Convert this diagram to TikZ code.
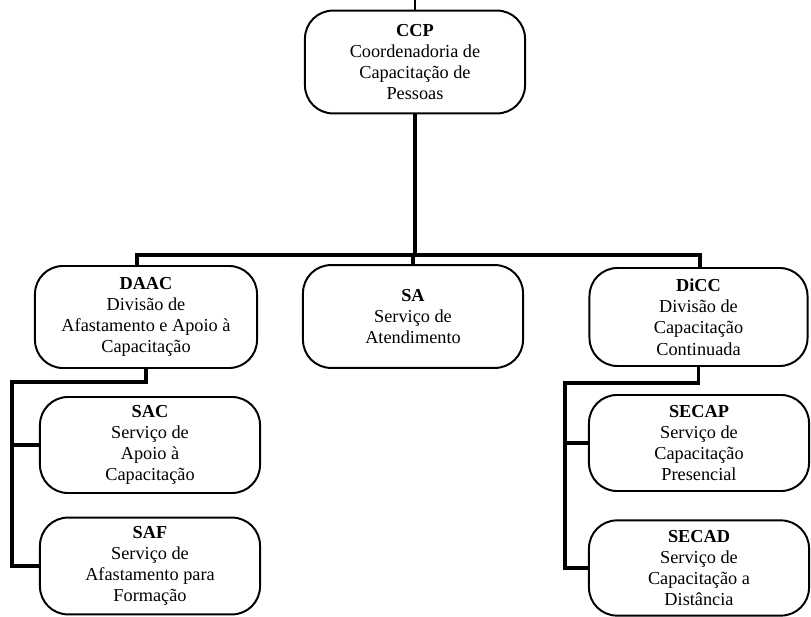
\documentclass[tikz,border=0pt]{standalone}
\usepackage{fontspec}
\setmainfont{Liberation Serif}

\tikzset{
    unit/.style={draw, line width=1.4pt, rounded corners=0.7cm, align=center, inner sep=0pt,
        font=\fontsize{13}{15.1}\selectfont},
    link/.style={line width=2.4pt}
}

\begin{document}
\begin{tikzpicture}[x=0.025cm, y=-0.025cm]
        \useasboundingbox (0,0) rectangle (811,617);
        \node[unit, minimum width=5.5cm, minimum height=2.57cm] (ccp) at (415,62)  {\textbf{CCP}\\Coordenadoria de\\Capacitação de\\Pessoas};
        \node[unit, minimum width=5.55cm, minimum height=2.55cm] (daac) at (146,317)  {\textbf{DAAC}\\Divisão de\\Afastamento e Apoio à\\Capacitação};
        \node[unit, minimum width=5.5cm, minimum height=2.57cm] (sa) at (413,316.5)  {\textbf{SA}\\Serviço de\\Atendimento};
        \node[unit, minimum width=5.45cm, minimum height=2.45cm] (dicc) at (698.5,317)  {\textbf{DiCC}\\Divisão de\\Capacitação\\Continuada};
        \node[unit, minimum width=5.5cm, minimum height=2.4cm] (sac) at (150,445)  {\textbf{SAC}\\Serviço de\\Apoio à\\Capacitação};
        \node[unit, minimum width=5.5cm, minimum height=2.42cm] (saf) at (150,566)  {\textbf{SAF}\\Serviço de\\Afastamento para\\Formação};
        \node[unit, minimum width=5.5cm, minimum height=2.4cm] (secap) at (699,443)  {\textbf{SECAP}\\Serviço de\\Capacitação\\Presencial};
        \node[unit, minimum width=5.5cm, minimum height=2.38cm] (secad) at (699,568)  {\textbf{SECAD}\\Serviço de\\Capacitação a\\Distância};

        \coordinate (top) at (415,0);
        \coordinate (busL) at (137,255);
        \coordinate (busR) at (700,255);
        \coordinate (daacK) at (12,382);
        \coordinate (diccK) at (565,383);

        \draw[line width=1.4pt] (top) -- (ccp.north);                       % stub
        \draw[link] (ccp.south) -- (ccp.south |- busL);                    % CCP
        \draw[link] (busL |- daac.north) -- (busL) -- (busR) -- (busR |- dicc.north);  % bus
        \draw[link] (sa.north) -- (sa.north |- busL);                      % SA
        \draw[link] (daac.south) |- (daacK) |- (saf.west);                  % DAAC
        \draw[link] (daacK |- sac.west) -- (sac.west);
        \draw[link] (dicc.south) |- (diccK) |- (secad.west);                % DiCC
        \draw[link] (diccK |- secap.west) -- (secap.west);

    \end{tikzpicture}
\end{document}
